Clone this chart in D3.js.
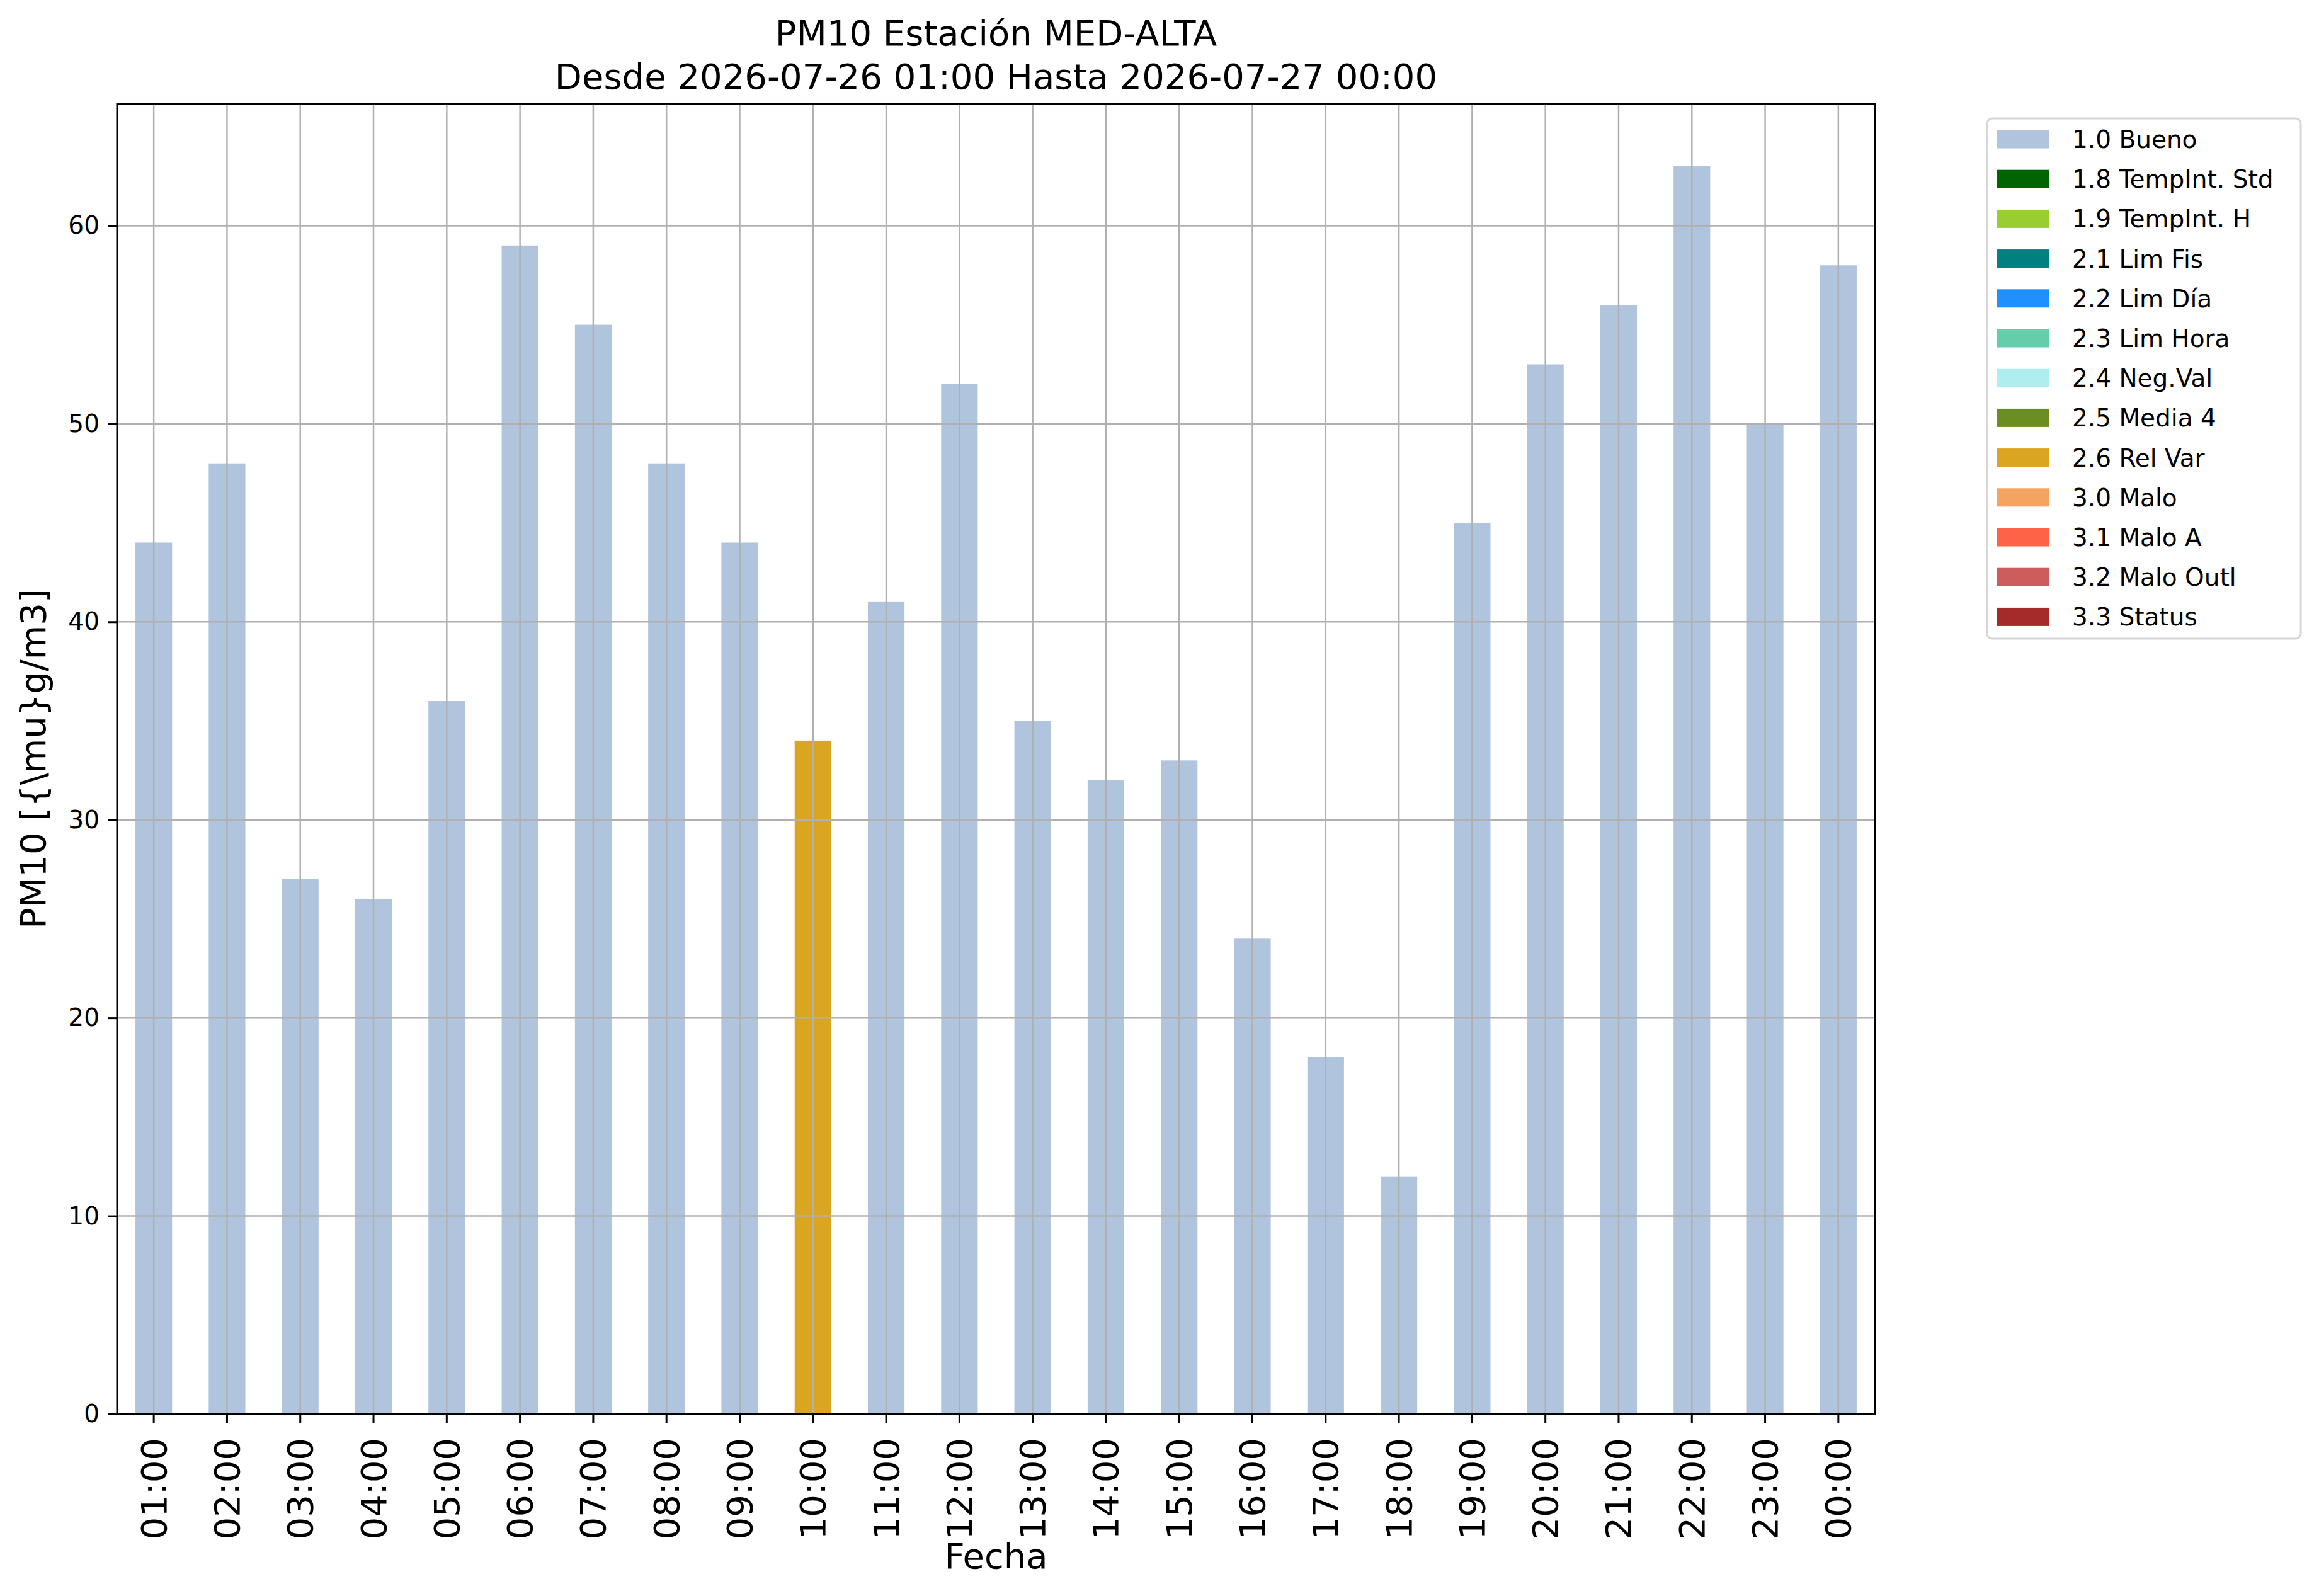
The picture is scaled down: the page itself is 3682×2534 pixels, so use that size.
<!DOCTYPE html>
<html>
<head>
<meta charset="utf-8">
<script src="https://cdn.jsdelivr.net/npm/d3@7"></script>
<style>
  body { margin: 0; background: #fff; }
  text { font-family: "DejaVu Sans", sans-serif; }
</style>
</head>
<body>
<svg id="chart"></svg>
<script>
const hours = ["01:00","02:00","03:00","04:00","05:00","06:00","07:00","08:00","09:00","10:00","11:00","12:00",
               "13:00","14:00","15:00","16:00","17:00","18:00","19:00","20:00","21:00","22:00","23:00","00:00"];
const pm10 = [44,48,27,26,36,59,55,48,44,34,41,52,35,32,33,24,18,12,45,53,56,63,50,58];
const flags = ["1.0 Bueno","1.0 Bueno","1.0 Bueno","1.0 Bueno","1.0 Bueno","1.0 Bueno","1.0 Bueno","1.0 Bueno","1.0 Bueno",
               "2.6 Rel Var","1.0 Bueno","1.0 Bueno","1.0 Bueno","1.0 Bueno","1.0 Bueno","1.0 Bueno","1.0 Bueno","1.0 Bueno",
               "1.0 Bueno","1.0 Bueno","1.0 Bueno","1.0 Bueno","1.0 Bueno","1.0 Bueno"];
const legendLabels = ["1.0 Bueno","1.8 TempInt. Std","1.9 TempInt. H","2.1 Lim Fis","2.2 Lim Día","2.3 Lim Hora",
                      "2.4 Neg.Val","2.5 Media 4","2.6 Rel Var","3.0 Malo","3.1 Malo A","3.2 Malo Outl","3.3 Status"];
const legendColors = ["#b0c4de","#006400","#9acd32","#008080","#1e90ff","#66cdaa","#afeeee","#6b8e23","#daa520",
                      "#f4a460","#ff6347","#cd5c5c","#a52a2a"];
const yTicks = [0,10,20,30,40,50,60];

const W = 3682, H = 2534;
const plot = { left: 186, right: 2977, top: 165, bottom: 2245 };

const svg = d3.select("#chart").attr("width", W).attr("height", H);
svg.append("rect").attr("width", W).attr("height", H).attr("fill", "#fff");

const color = d3.scaleOrdinal().domain(legendLabels).range(legendColors);
const x = d3.scaleBand().domain(hours).range([plot.left, plot.right]).paddingInner(0.5).paddingOuter(0.25);
const y = d3.scaleLinear().domain([0, 66.15]).range([plot.bottom, plot.top]);

// bars
svg.append("g").selectAll("rect")
  .data(pm10)
  .join("rect")
  .attr("x", (d, i) => x(hours[i]))
  .attr("width", x.bandwidth())
  .attr("y", d => y(d))
  .attr("height", d => y(0) - y(d))
  .attr("fill", (d, i) => color(flags[i]));

// grid
const grid = svg.append("g").attr("stroke", "#b0b0b0").attr("stroke-width", 2.5);
grid.selectAll("line.v").data(hours).join("line").attr("class", "v")
  .attr("x1", d => x(d) + x.bandwidth() / 2).attr("x2", d => x(d) + x.bandwidth() / 2)
  .attr("y1", plot.top).attr("y2", plot.bottom);
grid.selectAll("line.h").data(yTicks).join("line").attr("class", "h")
  .attr("x1", plot.left).attr("x2", plot.right)
  .attr("y1", d => y(d)).attr("y2", d => y(d));

// frame
svg.append("rect").attr("x", plot.left).attr("y", plot.top)
  .attr("width", plot.right - plot.left).attr("height", plot.bottom - plot.top)
  .attr("fill", "none").attr("stroke", "#000").attr("stroke-width", 3);

// y axis
const yAxis = svg.append("g").attr("transform", `translate(${plot.left},0)`)
  .call(d3.axisLeft(y).tickValues(yTicks).tickSize(14).tickPadding(14).tickFormat(d3.format("d")));
yAxis.select(".domain").remove();
yAxis.selectAll("line").attr("stroke-width", 3);
yAxis.selectAll("text").attr("font-size", 39).attr("font-family", "DejaVu Sans");

// x axis
const xAxis = svg.append("g").attr("transform", `translate(0,${plot.bottom})`)
  .call(d3.axisBottom(x).tickSize(14).tickPadding(0));
xAxis.select(".domain").remove();
xAxis.selectAll("line").attr("stroke-width", 3);
xAxis.selectAll("text")
  .attr("font-size", 56).attr("font-family", "DejaVu Sans")
  .attr("text-anchor", "end").attr("dy", null)
  .attr("dominant-baseline", "central")
  .attr("transform", "translate(0,38) rotate(-90)")
  .attr("y", 0).attr("x", 0);

// titles
const cx = (plot.left + plot.right) / 2;
svg.append("text").attr("x", cx).attr("y", 72).attr("text-anchor", "middle").attr("font-size", 56)
  .text("PM10 Estación MED-ALTA");
svg.append("text").attr("x", cx).attr("y", 141).attr("text-anchor", "middle").attr("font-size", 56)
  .text("Desde 2026-07-26 01:00 Hasta 2026-07-27 00:00");
svg.append("text").attr("x", cx).attr("y", 2490).attr("text-anchor", "middle").attr("font-size", 56)
  .text("Fecha");
svg.append("text").attr("transform", `translate(72,${(plot.top + plot.bottom) / 2}) rotate(-90)`)
  .attr("text-anchor", "middle").attr("font-size", 56)
  .text("PM10 [{\\mu}g/m3]");

// legend
const legend = svg.append("g");
legend.append("rect").attr("x", 3155).attr("y", 188).attr("width", 498).attr("height", 826)
  .attr("rx", 8).attr("fill", "#fff").attr("stroke", "#d6d6d6").attr("stroke-width", 3);
const item = legend.selectAll("g.item").data(legendLabels).join("g").attr("class", "item")
  .attr("transform", (d, i) => `translate(3171,${221 + i * 63.2})`);
item.append("rect").attr("x", 0).attr("y", -14.5).attr("width", 83).attr("height", 29)
  .attr("fill", d => color(d));
item.append("text").attr("x", 119).attr("y", 0).attr("dy", "0.36em").attr("font-size", 39)
  .text(d => d);
</script>
</body>
</html>
